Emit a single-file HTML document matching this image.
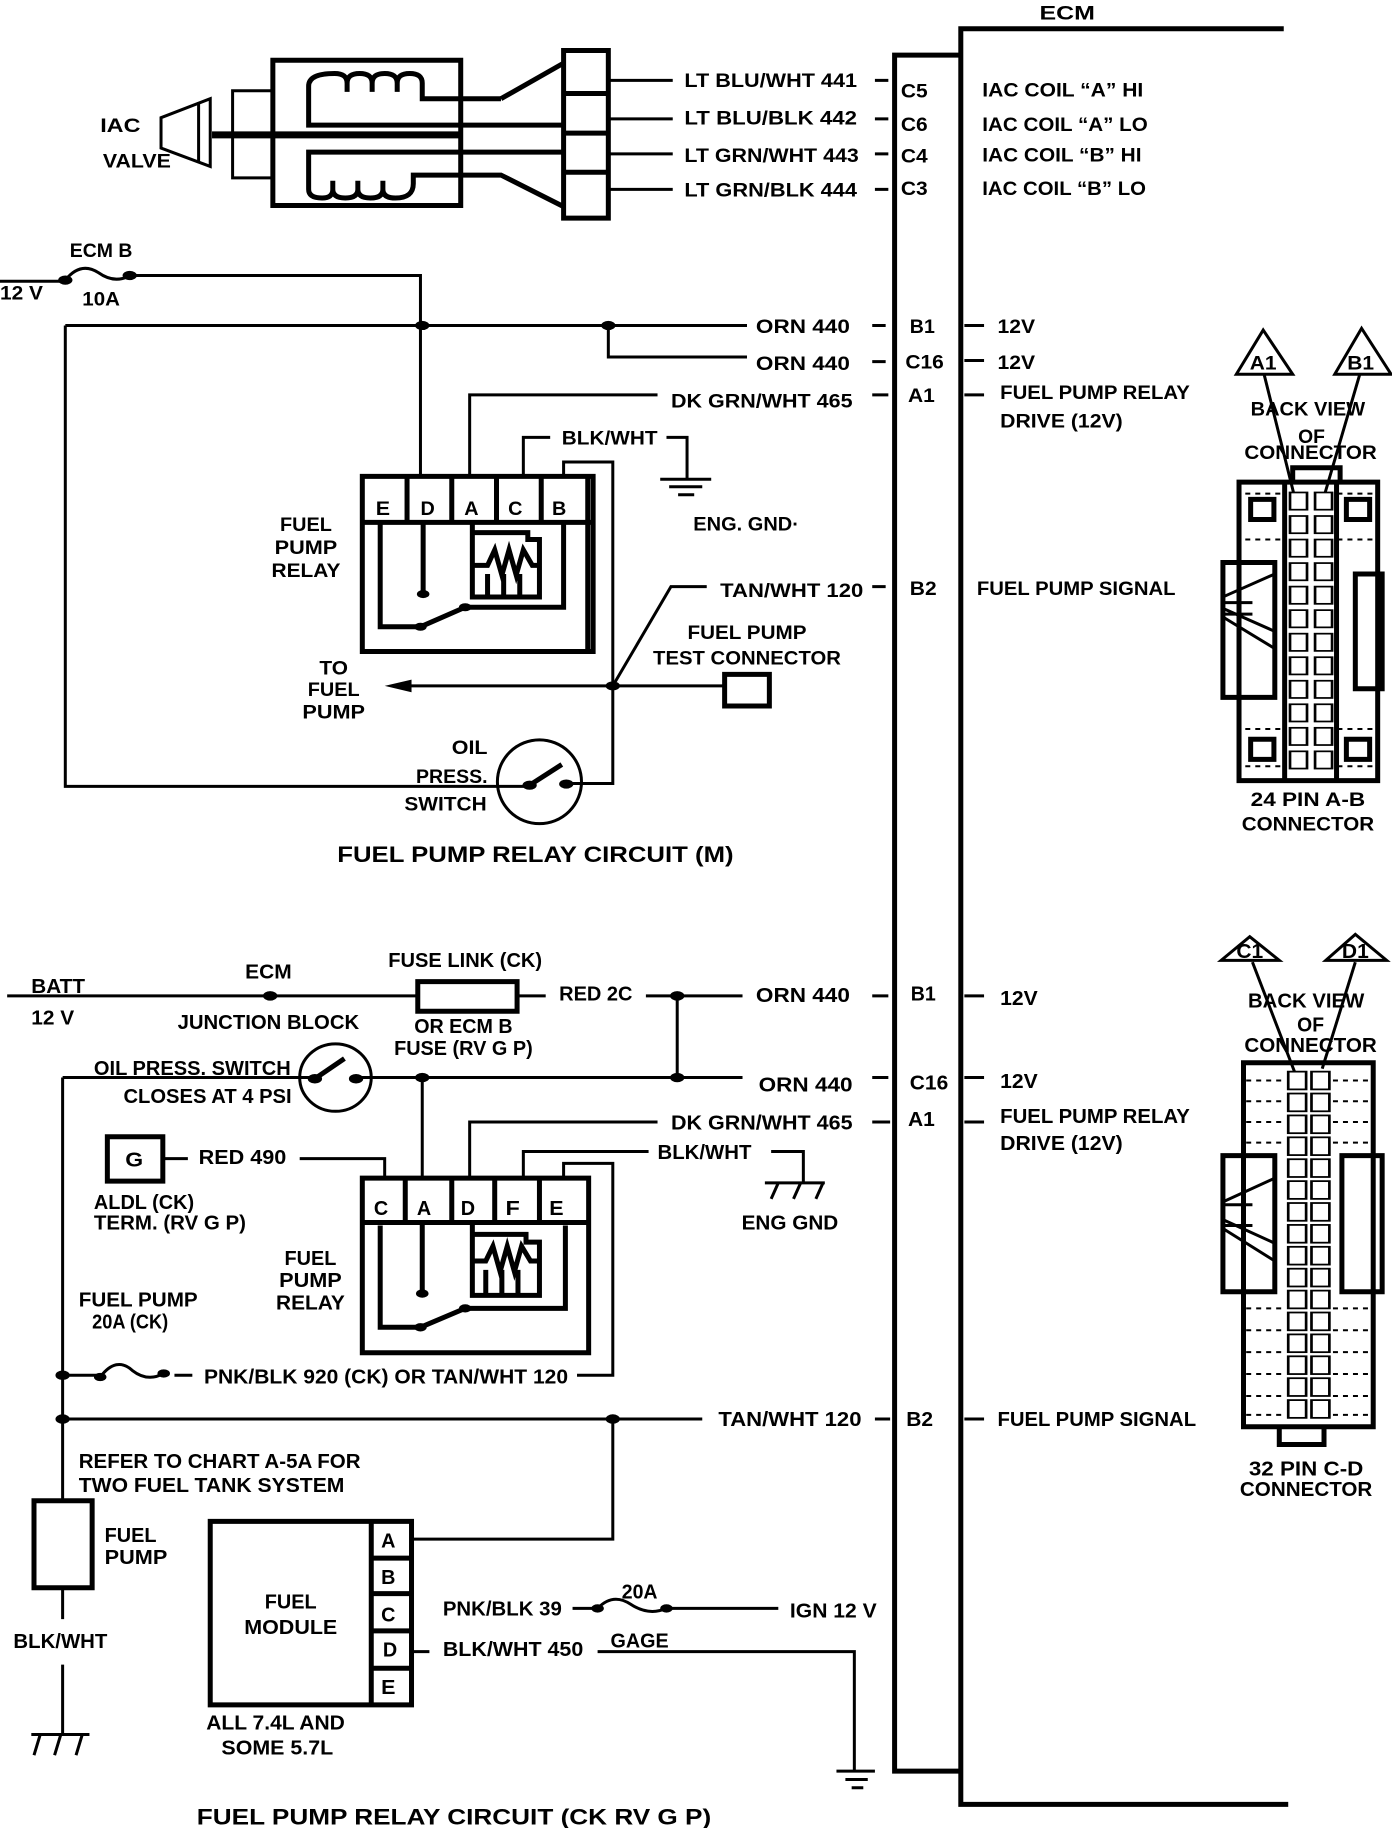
<!DOCTYPE html>
<html><head><meta charset="utf-8"><style>
html,body{margin:0;padding:0;background:#fff;width:1392px;height:1828px;overflow:hidden;position:relative}
svg{position:absolute;left:0}
text{font-family:"Liberation Sans Narrow","Liberation Sans",sans-serif;font-weight:bold;font-size:34px;fill:#000}
.l{fill:none;stroke:#000;stroke-width:3;vector-effect:non-scaling-stroke}
.t{fill:none;stroke:#000;stroke-width:5;vector-effect:non-scaling-stroke}
.w{fill:#fff;stroke:#000;stroke-width:3;vector-effect:non-scaling-stroke}
.d{fill:none;stroke:#000;stroke-width:2;stroke-dasharray:5 5;vector-effect:non-scaling-stroke}
.f{fill:#000}
</style></head><body>
<svg width="1392" height="900" style="top:0" viewBox="0 0 1556 1568" preserveAspectRatio="none">
<text x="1193" y="34" text-anchor="middle" textLength="62" lengthAdjust="spacingAndGlyphs">ECM</text>
<path class="t" d="M1074 1570V50H1435"/>
<path class="t" d="M1000 1570V96H1074"/>
<rect class="t" x="630" y="88" width="50" height="292"/>
<path class="t" d="M630 163H680M630 232H680M630 300H680"/>
<path class="l" d="M680 140H752M680 207H752M680 268H752M680 330H752"/>
<rect class="t" x="305" y="105" width="210" height="253"/>
<path class="l" d="M305 158H260V310H305"/>
<path class="l" d="M180 205L235 172V290L180 258Z"/>
<path class="l" d="M222 178V284"/>
<path d="M237 235H515" stroke="#000" stroke-width="7" vector-effect="non-scaling-stroke"/>
<path class="t" d="M560 172L630 110"/>
<path class="t" d="M560 172H472V145Q472 128 458 128Q444 128 444 145V160M444 145Q444 128 430 128Q416 128 416 145V160M416 145Q416 128 402 128Q388 128 388 145V160M388 145Q388 128 374 128Q345 128 345 150V218H630"/>
<path class="t" d="M630 265H345V330Q345 345 360 345Q372 345 372 330V315M372 330Q372 345 386 345Q400 345 400 330V315M400 330Q400 345 414 345Q428 345 428 330V315M428 330Q428 345 442 345Q462 345 462 320V305H560L630 360"/>
<text x="112" y="230" textLength="45" lengthAdjust="spacingAndGlyphs">IAC</text>
<text x="115" y="292" textLength="76" lengthAdjust="spacingAndGlyphs">VALVE</text>
<text x="765" y="152" textLength="193" lengthAdjust="spacingAndGlyphs">LT BLU/WHT  441</text>
<text x="765" y="217" textLength="193" lengthAdjust="spacingAndGlyphs">LT BLU/BLK    442</text>
<text x="765" y="282" textLength="195" lengthAdjust="spacingAndGlyphs">LT GRN/WHT 443</text>
<text x="765" y="342" textLength="193" lengthAdjust="spacingAndGlyphs">LT GRN/BLK   444</text>
<path class="l" d="M978 140H993M978 207H993M978 268H993M978 330H993"/>
<text x="1007" y="170" textLength="30" lengthAdjust="spacingAndGlyphs">C5</text>
<text x="1007" y="228" textLength="30" lengthAdjust="spacingAndGlyphs">C6</text>
<text x="1007" y="283" textLength="30" lengthAdjust="spacingAndGlyphs">C4</text>
<text x="1007" y="340" textLength="30" lengthAdjust="spacingAndGlyphs">C3</text>
<text x="1098" y="168" textLength="180" lengthAdjust="spacingAndGlyphs">IAC COIL “A” HI</text>
<text x="1098" y="228" textLength="185" lengthAdjust="spacingAndGlyphs">IAC COIL “A” LO</text>
<text x="1098" y="281" textLength="178" lengthAdjust="spacingAndGlyphs">IAC COIL “B” HI</text>
<text x="1098" y="340" textLength="183" lengthAdjust="spacingAndGlyphs">IAC COIL “B” LO</text>
<text x="78" y="448" textLength="70" lengthAdjust="spacingAndGlyphs">ECM B</text>
<text x="0" y="522" textLength="48" lengthAdjust="spacingAndGlyphs">12 V</text>
<text x="92" y="532" textLength="42" lengthAdjust="spacingAndGlyphs">10A</text>
<path class="l" d="M0 490H73"/>
<path class="l" d="M73 488Q90 455 110 475Q128 495 145 480"/>
<path class="l" d="M145 480H470V830"/>
<circle class="f" cx="73" cy="488" r="8"/><circle class="f" cx="145" cy="480" r="8"/>
<path class="l" d="M73 567H835M73 567V1370H590"/>
<circle class="f" cx="472" cy="567" r="8"/><circle class="f" cx="680" cy="567" r="8"/>
<path class="l" d="M680 567V622H835"/>
<text x="845" y="580" textLength="105" lengthAdjust="spacingAndGlyphs">ORN  440</text>
<text x="845" y="645" textLength="105" lengthAdjust="spacingAndGlyphs">ORN  440</text>
<path class="l" d="M975 567H990M975 630H990M975 688H993M1078 567H1100M1078 628H1100M1078 688H1100M975 1022H990"/>
<text x="1017" y="580" textLength="28" lengthAdjust="spacingAndGlyphs">B1</text>
<text x="1012" y="642" textLength="43" lengthAdjust="spacingAndGlyphs">C16</text>
<text x="1015" y="700" textLength="30" lengthAdjust="spacingAndGlyphs">A1</text>
<text x="1017" y="1037" textLength="30" lengthAdjust="spacingAndGlyphs">B2</text>
<text x="1115" y="580" textLength="42" lengthAdjust="spacingAndGlyphs">12V</text>
<text x="1115" y="643" textLength="42" lengthAdjust="spacingAndGlyphs">12V</text>
<text x="1118" y="695" textLength="212" lengthAdjust="spacingAndGlyphs">FUEL PUMP RELAY</text>
<text x="1118" y="745" textLength="137" lengthAdjust="spacingAndGlyphs">DRIVE (12V)</text>
<text x="1092" y="1037" textLength="222" lengthAdjust="spacingAndGlyphs">FUEL PUMP SIGNAL</text>
<path class="l" d="M525 830V688H735"/>
<text x="750" y="710" textLength="203" lengthAdjust="spacingAndGlyphs">DK GRN/WHT 465</text>
<path class="l" d="M585 830V762H615"/>
<text x="628" y="774" textLength="107" lengthAdjust="spacingAndGlyphs">BLK/WHT</text>
<path class="l" d="M745 762H768V835M738 835H795M748 848H785M758 862H776"/>
<text x="775" y="924" textLength="118" lengthAdjust="spacingAndGlyphs">ENG. GND·</text>
<path class="l" d="M630 830V805H685V1365H640"/>
<rect class="t" x="405" y="830" width="258" height="305"/>
<path class="t" d="M405 910H663M455 830V910M505 830V910M555 830V910M605 830V910M657 830V1135"/>
<text x="428" y="897" text-anchor="middle" textLength="16" lengthAdjust="spacingAndGlyphs">E</text>
<text x="478" y="897" text-anchor="middle" textLength="16" lengthAdjust="spacingAndGlyphs">D</text>
<text x="527" y="897" text-anchor="middle" textLength="16" lengthAdjust="spacingAndGlyphs">A</text>
<text x="576" y="897" text-anchor="middle" textLength="16" lengthAdjust="spacingAndGlyphs">C</text>
<text x="625" y="897" text-anchor="middle" textLength="16" lengthAdjust="spacingAndGlyphs">B</text>
<path class="t" d="M425 910V1092H472M473 910V1035M470 1092L520 1058H630V910"/>
<circle class="f" cx="473" cy="1035" r="7"/><circle class="f" cx="470" cy="1092" r="7"/><circle class="f" cx="520" cy="1058" r="7"/>
<path class="t" d="M528 910V1040H603V940H590V928H528M528 985H545L553 958L561 1002L569 958L577 1002L585 958L595 985H603M545 1000V1040M563 1000V1040M581 1000V1040"/>
<text x="342" y="925" text-anchor="middle" textLength="58" lengthAdjust="spacingAndGlyphs">FUEL</text>
<text x="342" y="965" text-anchor="middle" textLength="70" lengthAdjust="spacingAndGlyphs">PUMP</text>
<text x="342" y="1005" text-anchor="middle" textLength="77" lengthAdjust="spacingAndGlyphs">RELAY</text>
<path class="l" d="M685 1195L750 1022H790"/>
<text x="805" y="1040" textLength="160" lengthAdjust="spacingAndGlyphs">TAN/WHT 120</text>
<path class="l" d="M445 1195H810"/>
<path class="f" d="M430 1195L460 1184V1206Z"/>
<circle class="f" cx="685" cy="1195" r="8"/>
<rect class="t" x="810" y="1175" width="50" height="55"/>
<text x="835" y="1113" text-anchor="middle" textLength="133" lengthAdjust="spacingAndGlyphs">FUEL PUMP</text>
<text x="835" y="1158" text-anchor="middle" textLength="210" lengthAdjust="spacingAndGlyphs">TEST CONNECTOR</text>
<text x="373" y="1175" text-anchor="middle" textLength="32" lengthAdjust="spacingAndGlyphs">TO</text>
<text x="373" y="1213" text-anchor="middle" textLength="58" lengthAdjust="spacingAndGlyphs">FUEL</text>
<text x="373" y="1252" text-anchor="middle" textLength="70" lengthAdjust="spacingAndGlyphs">PUMP</text>
<ellipse class="l" cx="603" cy="1362" rx="47" ry="73"/>
<path class="t" d="M592 1368L628 1332"/>
<circle class="f" cx="592" cy="1368" r="8"/><circle class="f" cx="633" cy="1366" r="8"/>
<text x="525" y="1314" text-anchor="middle" textLength="40" lengthAdjust="spacingAndGlyphs">OIL</text>
<text x="505" y="1364" text-anchor="middle" textLength="80" lengthAdjust="spacingAndGlyphs">PRESS.</text>
<text x="498" y="1412" text-anchor="middle" textLength="92" lengthAdjust="spacingAndGlyphs">SWITCH</text>
<text x="377" y="1502" textLength="443" lengthAdjust="spacingAndGlyphs" style="font-size:38px">FUEL PUMP RELAY CIRCUIT (M)</text>
<path class="l" d="M1382 652L1412 575L1445 652ZM1492 652L1522 572L1555 652Z"/>
<text x="1412" y="644" text-anchor="middle" textLength="30" lengthAdjust="spacingAndGlyphs">A1</text>
<text x="1521" y="644" text-anchor="middle" textLength="30" lengthAdjust="spacingAndGlyphs">B1</text>
<path class="l" d="M1413 652L1447 865M1520 652L1480 865"/>
<text x="1462" y="724" text-anchor="middle" textLength="128" lengthAdjust="spacingAndGlyphs">BACK VIEW</text>
<text x="1466" y="772" text-anchor="middle" textLength="30" lengthAdjust="spacingAndGlyphs">OF</text>
<text x="1465" y="800" text-anchor="middle" textLength="148" lengthAdjust="spacingAndGlyphs">CONNECTOR</text>
<path class="t" d="M1445 840V815H1498V840"/>
<rect class="t" x="1385" y="840" width="155" height="520"/>
<rect class="t" x="1367" y="980" width="58" height="235" fill="#fff"/>
<rect class="t" x="1515" y="1000" width="30" height="200" fill="#fff"/>
<path class="l" d="M1367 1040L1425 1000M1367 1060L1425 1100M1367 1075L1425 1130M1367 1050H1400M1367 1070H1400"/>
<rect class="t" x="1398" y="870" width="26" height="35"/><rect class="t" x="1505" y="870" width="26" height="35"/>
<rect class="t" x="1398" y="1288" width="26" height="35"/><rect class="t" x="1505" y="1288" width="26" height="35"/>
<path class="d" d="M1392 860H1432M1495 860H1535M1392 940H1432M1495 940H1535M1392 1270H1432M1495 1270H1535M1392 1335H1432M1495 1335H1535"/>
<path class="t" d="M1436 840V1360M1494 840V1360"/>
<g class="w">
<rect x="1442" y="858" width="19" height="30"/><rect x="1470" y="858" width="19" height="30"/>
<rect x="1442" y="899" width="19" height="30"/><rect x="1470" y="899" width="19" height="30"/>
<rect x="1442" y="940" width="19" height="30"/><rect x="1470" y="940" width="19" height="30"/>
<rect x="1442" y="981" width="19" height="30"/><rect x="1470" y="981" width="19" height="30"/>
<rect x="1442" y="1022" width="19" height="30"/><rect x="1470" y="1022" width="19" height="30"/>
<rect x="1442" y="1063" width="19" height="30"/><rect x="1470" y="1063" width="19" height="30"/>
<rect x="1442" y="1104" width="19" height="30"/><rect x="1470" y="1104" width="19" height="30"/>
<rect x="1442" y="1145" width="19" height="30"/><rect x="1470" y="1145" width="19" height="30"/>
<rect x="1442" y="1186" width="19" height="30"/><rect x="1470" y="1186" width="19" height="30"/>
<rect x="1442" y="1227" width="19" height="30"/><rect x="1470" y="1227" width="19" height="30"/>
<rect x="1442" y="1268" width="19" height="30"/><rect x="1470" y="1268" width="19" height="30"/>
<rect x="1442" y="1309" width="19" height="30"/><rect x="1470" y="1309" width="19" height="30"/>
</g>
<text x="1462" y="1404" text-anchor="middle" textLength="128" lengthAdjust="spacingAndGlyphs">24 PIN  A-B</text>
<text x="1462" y="1447" text-anchor="middle" textLength="148" lengthAdjust="spacingAndGlyphs">CONNECTOR</text>
</svg>

<svg width="1392" height="928" style="top:900px" viewBox="0 0 1556 1568" preserveAspectRatio="none">
<path class="t" d="M1074 -3V1528H1440"/>
<path class="t" d="M1000 -3V1472H1074"/>
<text x="35" y="157" textLength="60" lengthAdjust="spacingAndGlyphs">BATT</text>
<text x="35" y="210" textLength="48" lengthAdjust="spacingAndGlyphs">12 V</text>
<path class="l" d="M8 162H467"/>
<circle class="f" cx="302" cy="162" r="8"/>
<text x="300" y="133" text-anchor="middle" textLength="52" lengthAdjust="spacingAndGlyphs">ECM</text>
<text x="300" y="218" text-anchor="middle" textLength="203" lengthAdjust="spacingAndGlyphs">JUNCTION BLOCK</text>
<rect class="t" x="467" y="138" width="111" height="50"/>
<text x="520" y="113" text-anchor="middle" textLength="172" lengthAdjust="spacingAndGlyphs">FUSE LINK (CK)</text>
<text x="518" y="225" text-anchor="middle" textLength="110" lengthAdjust="spacingAndGlyphs">OR ECM B</text>
<text x="518" y="262" text-anchor="middle" textLength="155" lengthAdjust="spacingAndGlyphs">FUSE (RV G P)</text>
<path class="l" d="M578 162H610M722 162H830M757 162V300"/>
<circle class="f" cx="757" cy="162" r="8"/>
<text x="625" y="170" textLength="82" lengthAdjust="spacingAndGlyphs">RED 2C</text>
<text x="845" y="172" textLength="105" lengthAdjust="spacingAndGlyphs">ORN  440</text>
<text x="848" y="324" textLength="105" lengthAdjust="spacingAndGlyphs">ORN  440</text>
<path class="l" d="M975 162H993M975 300H993M975 375H995M978 877H995M1078 162H1100M1078 300H1100M1078 375H1100M1078 877H1100"/>
<text x="1018" y="170" textLength="28" lengthAdjust="spacingAndGlyphs">B1</text>
<text x="1017" y="320" textLength="43" lengthAdjust="spacingAndGlyphs">C16</text>
<text x="1015" y="382" textLength="30" lengthAdjust="spacingAndGlyphs">A1</text>
<text x="1013" y="889" textLength="30" lengthAdjust="spacingAndGlyphs">B2</text>
<text x="1118" y="177" textLength="42" lengthAdjust="spacingAndGlyphs">12V</text>
<text x="1118" y="318" textLength="42" lengthAdjust="spacingAndGlyphs">12V</text>
<text x="1118" y="377" textLength="212" lengthAdjust="spacingAndGlyphs">FUEL PUMP RELAY</text>
<text x="1118" y="422" textLength="137" lengthAdjust="spacingAndGlyphs">DRIVE (12V)</text>
<text x="1115" y="889" textLength="222" lengthAdjust="spacingAndGlyphs">FUEL PUMP SIGNAL</text>
<path class="l" d="M70 300H350M398 300H830"/>
<circle class="f" cx="472" cy="300" r="8"/><circle class="f" cx="757" cy="300" r="8"/>
<ellipse class="l" cx="375" cy="300" rx="40" ry="57"/>
<path class="t" d="M352 302L385 268"/>
<circle class="f" cx="352" cy="302" r="8"/><circle class="f" cx="398" cy="302" r="8"/>
<text x="105" y="296" textLength="220" lengthAdjust="spacingAndGlyphs">OIL PRESS. SWITCH</text>
<text x="138" y="343" textLength="188" lengthAdjust="spacingAndGlyphs">CLOSES AT 4 PSI</text>
<path class="l" d="M70 300V1015M70 1162V1215M70 1292V1410"/>
<path class="l" d="M35 1410H100M45 1410L38 1445M68 1410L61 1445M92 1410L85 1445"/>
<text x="15" y="1264" textLength="105" lengthAdjust="spacingAndGlyphs">BLK/WHT</text>
<rect class="t" x="38" y="1015" width="65" height="147"/>
<text x="117" y="1085" textLength="58" lengthAdjust="spacingAndGlyphs">FUEL</text>
<text x="117" y="1122" textLength="70" lengthAdjust="spacingAndGlyphs">PUMP</text>
<path class="l" d="M525 470V375H735"/>
<text x="750" y="388" textLength="203" lengthAdjust="spacingAndGlyphs">DK GRN/WHT 465</text>
<rect class="t" x="120" y="400" width="62" height="75"/>
<text x="150" y="450" text-anchor="middle" textLength="20" lengthAdjust="spacingAndGlyphs">G</text>
<path class="l" d="M182 437H210M335 437H430V470"/>
<text x="222" y="446" textLength="98" lengthAdjust="spacingAndGlyphs">RED 490</text>
<text x="105" y="522" textLength="112" lengthAdjust="spacingAndGlyphs">ALDL (CK)</text>
<text x="105" y="557" textLength="170" lengthAdjust="spacingAndGlyphs">TERM. (RV G P)</text>
<path class="l" d="M472 300V470"/>
<path class="l" d="M585 470V425H725"/>
<text x="735" y="438" textLength="105" lengthAdjust="spacingAndGlyphs">BLK/WHT</text>
<path class="l" d="M862 425H898V478M855 478H922M870 478L862 505M895 478L887 505M920 478L912 505"/>
<text x="883" y="557" text-anchor="middle" textLength="108" lengthAdjust="spacingAndGlyphs">ENG GND</text>
<path class="l" d="M630 470V445H685V803H645"/>
<rect class="t" x="405" y="470" width="253" height="295"/>
<path class="t" d="M405 545H658M453 470V545M505 470V545M553 470V545M603 470V545"/>
<text x="426" y="532" text-anchor="middle" textLength="16" lengthAdjust="spacingAndGlyphs">C</text>
<text x="474" y="532" text-anchor="middle" textLength="16" lengthAdjust="spacingAndGlyphs">A</text>
<text x="523" y="532" text-anchor="middle" textLength="16" lengthAdjust="spacingAndGlyphs">D</text>
<text x="573" y="532" text-anchor="middle" textLength="16" lengthAdjust="spacingAndGlyphs">F</text>
<text x="622" y="532" text-anchor="middle" textLength="16" lengthAdjust="spacingAndGlyphs">E</text>
<path class="t" d="M425 550V722H470M472 545V665M470 722L520 690H632V550"/>
<circle class="f" cx="472" cy="665" r="7"/><circle class="f" cx="470" cy="722" r="7"/><circle class="f" cx="520" cy="690" r="7"/>
<path class="t" d="M528 545V668H603V578H588V565H528M528 610H543L551 585L559 628L567 585L575 628L583 585L593 610H603M543 625V668M561 625V668M579 625V668"/>
<text x="347" y="617" text-anchor="middle" textLength="58" lengthAdjust="spacingAndGlyphs">FUEL</text>
<text x="347" y="654" text-anchor="middle" textLength="70" lengthAdjust="spacingAndGlyphs">PUMP</text>
<text x="347" y="692" text-anchor="middle" textLength="77" lengthAdjust="spacingAndGlyphs">RELAY</text>
<text x="88" y="687" textLength="133" lengthAdjust="spacingAndGlyphs">FUEL PUMP</text>
<text x="103" y="724" textLength="85" lengthAdjust="spacingAndGlyphs">20A (CK)</text>
<path class="l" d="M70 803H112"/>
<path class="l" d="M112 806Q130 770 148 795Q165 815 183 800"/>
<circle class="f" cx="70" cy="803" r="8"/><circle class="f" cx="112" cy="806" r="7"/><circle class="f" cx="183" cy="800" r="7"/>
<path class="l" d="M195 803H215"/>
<text x="228" y="817" textLength="407" lengthAdjust="spacingAndGlyphs">PNK/BLK 920 (CK) OR TAN/WHT 120</text>
<path class="l" d="M70 877H785M685 877V1080H460"/>
<circle class="f" cx="70" cy="877" r="8"/><circle class="f" cx="685" cy="877" r="8"/>
<text x="803" y="889" textLength="160" lengthAdjust="spacingAndGlyphs">TAN/WHT 120</text>
<text x="88" y="960" textLength="315" lengthAdjust="spacingAndGlyphs">REFER TO CHART A-5A FOR</text>
<text x="88" y="1000" textLength="297" lengthAdjust="spacingAndGlyphs">TWO FUEL TANK SYSTEM</text>
<rect class="t" x="235" y="1050" width="225" height="310"/>
<path class="t" d="M415 1050V1360M415 1112H460M415 1172H460M415 1235H460M415 1298H460"/>
<text x="434" y="1094" text-anchor="middle" textLength="16" lengthAdjust="spacingAndGlyphs">A</text>
<text x="434" y="1156" text-anchor="middle" textLength="16" lengthAdjust="spacingAndGlyphs">B</text>
<text x="434" y="1219" text-anchor="middle" textLength="16" lengthAdjust="spacingAndGlyphs">C</text>
<text x="436" y="1278" text-anchor="middle" textLength="16" lengthAdjust="spacingAndGlyphs">D</text>
<text x="434" y="1342" text-anchor="middle" textLength="16" lengthAdjust="spacingAndGlyphs">E</text>
<text x="325" y="1197" text-anchor="middle" textLength="58" lengthAdjust="spacingAndGlyphs">FUEL</text>
<text x="325" y="1240" text-anchor="middle" textLength="104" lengthAdjust="spacingAndGlyphs">MODULE</text>
<text x="308" y="1402" text-anchor="middle" textLength="155" lengthAdjust="spacingAndGlyphs">ALL 7.4L AND</text>
<text x="310" y="1444" text-anchor="middle" textLength="125" lengthAdjust="spacingAndGlyphs">SOME 5.7L</text>
<text x="495" y="1209" textLength="133" lengthAdjust="spacingAndGlyphs">PNK/BLK 39</text>
<path class="l" d="M640 1197H668"/>
<path class="l" d="M668 1197Q685 1170 705 1190Q725 1210 745 1197H870"/>
<circle class="f" cx="668" cy="1197" r="7"/><circle class="f" cx="745" cy="1197" r="7"/>
<text x="715" y="1180" text-anchor="middle" textLength="40" lengthAdjust="spacingAndGlyphs">20A</text>
<text x="883" y="1212" textLength="97" lengthAdjust="spacingAndGlyphs">IGN 12 V</text>
<path class="l" d="M460 1270H480M668 1270H955V1470M935 1472H978M945 1486H970M952 1500H965"/>
<text x="495" y="1277" textLength="157" lengthAdjust="spacingAndGlyphs">BLK/WHT 450</text>
<text x="715" y="1263" text-anchor="middle" textLength="65" lengthAdjust="spacingAndGlyphs">GAGE</text>
<text x="220" y="1562" textLength="575" lengthAdjust="spacingAndGlyphs" style="font-size:38px">FUEL PUMP RELAY CIRCUIT (CK  RV  G  P)</text>
<path class="l" d="M1365 102L1397 62L1430 102ZM1482 102L1515 58L1550 102Z"/>
<text x="1397" y="98" text-anchor="middle" textLength="30" lengthAdjust="spacingAndGlyphs">C1</text>
<text x="1515" y="98" text-anchor="middle" textLength="30" lengthAdjust="spacingAndGlyphs">D1</text>
<path class="l" d="M1400 105L1447 290M1515 105L1478 285"/>
<text x="1460" y="182" text-anchor="middle" textLength="130" lengthAdjust="spacingAndGlyphs">BACK VIEW</text>
<text x="1465" y="222" text-anchor="middle" textLength="30" lengthAdjust="spacingAndGlyphs">OF</text>
<text x="1465" y="257" text-anchor="middle" textLength="148" lengthAdjust="spacingAndGlyphs">CONNECTOR</text>
<rect class="t" x="1390" y="275" width="145" height="615"/>
<rect class="t" x="1367" y="432" width="58" height="230" fill="#fff"/>
<rect class="t" x="1500" y="432" width="45" height="230" fill="#fff"/>
<path class="l" d="M1367 510L1425 470M1367 540L1425 580M1367 555L1425 610M1367 515H1400M1367 550H1400"/>
<path class="d" d="M1393 305H1437M1490 305H1532M1393 340H1437M1490 340H1532M1393 375H1437M1490 375H1532M1393 410H1437M1490 410H1532M1393 690H1437M1490 690H1532M1393 727H1437M1490 727H1532M1393 764H1437M1490 764H1532M1393 801H1437M1490 801H1532M1393 838H1437M1490 838H1532M1393 870H1437M1490 870H1532"/>
<path class="t" d="M1430 890V920H1480V890"/>
<g class="w">
<rect x="1440" y="290" width="20" height="30"/><rect x="1466" y="290" width="20" height="30"/>
<rect x="1440" y="327" width="20" height="30"/><rect x="1466" y="327" width="20" height="30"/>
<rect x="1440" y="364" width="20" height="30"/><rect x="1466" y="364" width="20" height="30"/>
<rect x="1440" y="401" width="20" height="30"/><rect x="1466" y="401" width="20" height="30"/>
<rect x="1440" y="438" width="20" height="30"/><rect x="1466" y="438" width="20" height="30"/>
<rect x="1440" y="475" width="20" height="30"/><rect x="1466" y="475" width="20" height="30"/>
<rect x="1440" y="512" width="20" height="30"/><rect x="1466" y="512" width="20" height="30"/>
<rect x="1440" y="549" width="20" height="30"/><rect x="1466" y="549" width="20" height="30"/>
<rect x="1440" y="586" width="20" height="30"/><rect x="1466" y="586" width="20" height="30"/>
<rect x="1440" y="623" width="20" height="30"/><rect x="1466" y="623" width="20" height="30"/>
<rect x="1440" y="660" width="20" height="30"/><rect x="1466" y="660" width="20" height="30"/>
<rect x="1440" y="697" width="20" height="30"/><rect x="1466" y="697" width="20" height="30"/>
<rect x="1440" y="734" width="20" height="30"/><rect x="1466" y="734" width="20" height="30"/>
<rect x="1440" y="771" width="20" height="30"/><rect x="1466" y="771" width="20" height="30"/>
<rect x="1440" y="808" width="20" height="30"/><rect x="1466" y="808" width="20" height="30"/>
<rect x="1440" y="845" width="20" height="30"/><rect x="1466" y="845" width="20" height="30"/>
</g>
<text x="1460" y="972" text-anchor="middle" textLength="128" lengthAdjust="spacingAndGlyphs">32  PIN C-D</text>
<text x="1460" y="1007" text-anchor="middle" textLength="148" lengthAdjust="spacingAndGlyphs">CONNECTOR</text>
</svg>
</body></html>
